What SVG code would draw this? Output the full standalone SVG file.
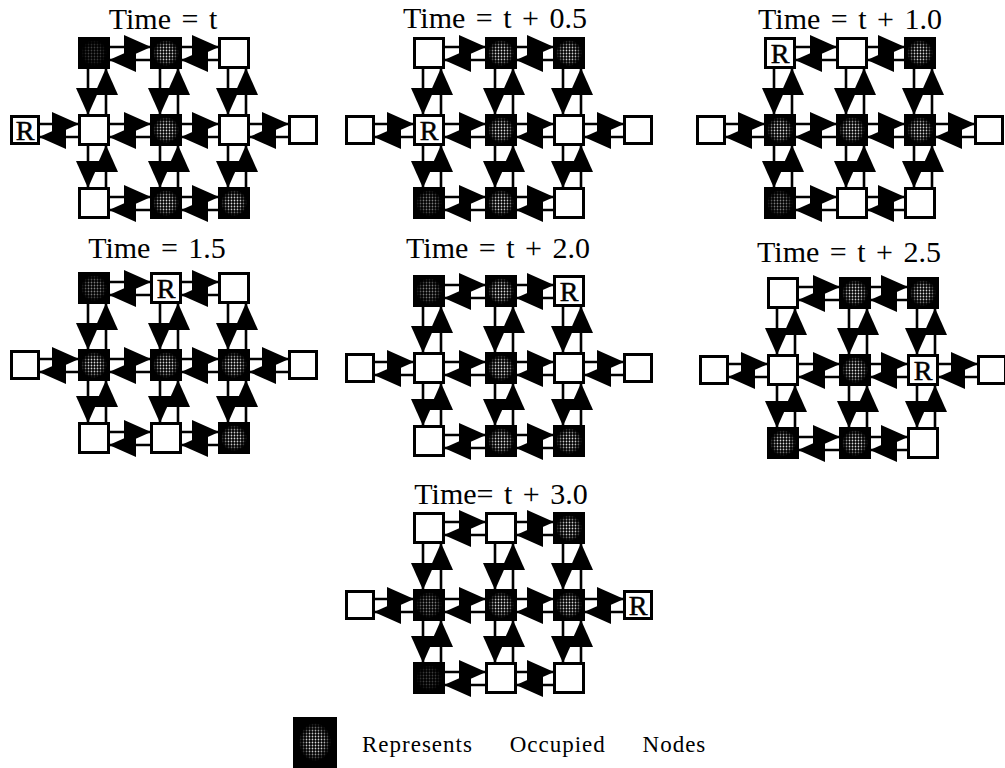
<svg xmlns="http://www.w3.org/2000/svg" xmlns:xlink="http://www.w3.org/1999/xlink" width="1005" height="768" viewBox="0 0 1005 768">
<style>
.w line{stroke:#000;stroke-width:2.6;marker-end:url(#ah)}
.bx{fill:#fff;stroke:#000;stroke-width:3}
.occ .bx,.occf .bx,.occd .bx{fill:#000}
.st{fill:url(#dots)}
.occf .st{opacity:.6}
.occd .st{opacity:.3}
.t{font-family:"Liberation Serif","Times New Roman",serif;font-size:30px;text-anchor:middle;word-spacing:3px;fill:#000}
.r{font-family:"Liberation Serif","Times New Roman",serif;font-size:28px;text-anchor:middle;fill:#000;stroke:#000;stroke-width:.5}
.lg{font-family:"Liberation Serif","Times New Roman",serif;font-size:23px;letter-spacing:1px;word-spacing:30px;fill:#000}
</style>
<defs>
<marker id="ah" viewBox="0 0 27 24" refX="26" refY="12" markerWidth="27" markerHeight="24" markerUnits="userSpaceOnUse" orient="auto">
<path d="M0,0 L27,12 L0,24 Z" fill="#000"/>
</marker>
<pattern id="dots" width="3" height="3" patternUnits="userSpaceOnUse"><circle cx="1.5" cy="1.5" r="0.9" fill="#e6e6e6"/></pattern>
<radialGradient id="fg"><stop offset="0" stop-color="#fff"/><stop offset="0.55" stop-color="#ddd"/><stop offset="1" stop-color="#000"/></radialGradient>
<mask id="fade" maskContentUnits="objectBoundingBox"><rect width="1" height="1" fill="url(#fg)"/></mask>
<g id="wires" class="w">
<line x1="32" y1="10" x2="72" y2="10"/><line x1="72" y1="23" x2="32" y2="23"/>
<line x1="104" y1="10" x2="140" y2="10"/><line x1="140" y1="23" x2="104" y2="23"/>
<line x1="-38" y1="87" x2="0" y2="87"/><line x1="0" y1="100" x2="-38" y2="100"/>
<line x1="32" y1="87" x2="72" y2="87"/><line x1="72" y1="100" x2="32" y2="100"/>
<line x1="104" y1="87" x2="140" y2="87"/><line x1="140" y1="100" x2="104" y2="100"/>
<line x1="172" y1="87" x2="210" y2="87"/><line x1="210" y1="100" x2="172" y2="100"/>
<line x1="32" y1="160" x2="72" y2="160"/><line x1="72" y1="173" x2="32" y2="173"/>
<line x1="104" y1="160" x2="140" y2="160"/><line x1="140" y1="173" x2="104" y2="173"/>
<line x1="10" y1="32" x2="10" y2="77"/><line x1="28" y1="77" x2="28" y2="32"/>
<line x1="82" y1="32" x2="82" y2="77"/><line x1="100" y1="77" x2="100" y2="32"/>
<line x1="150" y1="32" x2="150" y2="77"/><line x1="168" y1="77" x2="168" y2="32"/>
<line x1="10" y1="109" x2="10" y2="150"/><line x1="28" y1="150" x2="28" y2="109"/>
<line x1="82" y1="109" x2="82" y2="150"/><line x1="100" y1="150" x2="100" y2="109"/>
<line x1="150" y1="109" x2="150" y2="150"/><line x1="168" y1="150" x2="168" y2="109"/>
</g>
</defs>
<rect width="1005" height="768" fill="#fff"/>
<g id="titles">
<text class="t" x="163" y="29">Time = t</text>
<text class="t" x="495" y="28">Time = t + 0.5</text>
<text class="t" x="850" y="29">Time = t + 1.0</text>
<text class="t" x="157" y="258">Time = 1.5</text>
<text class="t" x="498" y="258">Time = t + 2.0</text>
<text class="t" x="849" y="262">Time = t + 2.5</text>
<text class="t" x="501" y="504">Time= t + 3.0</text>
</g>
<g id="connectors">
<use href="#wires" x="78" y="37"/>
<use href="#wires" x="413" y="37"/>
<use href="#wires" x="764" y="37"/>
<use href="#wires" x="78" y="272"/>
<use href="#wires" x="413" y="275"/>
<use href="#wires" x="767" y="277"/>
<use href="#wires" x="413" y="512"/>
</g>
<g id="nodes">
<!-- Panel 1 -->
<g id="p1-t1" class="occd" transform="translate(78,37)"><rect class="bx" x="1.5" y="1.5" width="29" height="29"/><rect class="st" x="3" y="3" width="26" height="26" mask="url(#fade)"/></g>
<g id="p1-t2" class="occ" transform="translate(150,37)"><rect class="bx" x="1.5" y="1.5" width="29" height="29"/><rect class="st" x="3" y="3" width="26" height="26" mask="url(#fade)"/></g>
<g id="p1-t3" transform="translate(218,37)"><rect class="bx" x="1.5" y="1.5" width="29" height="29"/></g>
<g id="p1-ml" transform="translate(10,115)"><rect class="bx" x="1.5" y="1.5" width="27" height="27"/><text class="r" x="15" y="25">R</text></g>
<g id="p1-m1" transform="translate(78,114)"><rect class="bx" x="1.5" y="1.5" width="29" height="29"/></g>
<g id="p1-m2" class="occ" transform="translate(150,114)"><rect class="bx" x="1.5" y="1.5" width="29" height="29"/><rect class="st" x="3" y="3" width="26" height="26" mask="url(#fade)"/></g>
<g id="p1-m3" transform="translate(218,114)"><rect class="bx" x="1.5" y="1.5" width="29" height="29"/></g>
<g id="p1-mr" transform="translate(288,115)"><rect class="bx" x="1.5" y="1.5" width="27" height="27"/></g>
<g id="p1-b1" transform="translate(78,187)"><rect class="bx" x="1.5" y="1.5" width="29" height="29"/></g>
<g id="p1-b2" class="occ" transform="translate(150,187)"><rect class="bx" x="1.5" y="1.5" width="29" height="29"/><rect class="st" x="3" y="3" width="26" height="26" mask="url(#fade)"/></g>
<g id="p1-b3" class="occ" transform="translate(218,187)"><rect class="bx" x="1.5" y="1.5" width="29" height="29"/><rect class="st" x="3" y="3" width="26" height="26" mask="url(#fade)"/></g>
<!-- Panel 2 -->
<g id="p2-t1" transform="translate(413,37)"><rect class="bx" x="1.5" y="1.5" width="29" height="29"/></g>
<g id="p2-t2" class="occ" transform="translate(485,37)"><rect class="bx" x="1.5" y="1.5" width="29" height="29"/><rect class="st" x="3" y="3" width="26" height="26" mask="url(#fade)"/></g>
<g id="p2-t3" class="occ" transform="translate(553,37)"><rect class="bx" x="1.5" y="1.5" width="29" height="29"/><rect class="st" x="3" y="3" width="26" height="26" mask="url(#fade)"/></g>
<g id="p2-ml" transform="translate(345,115)"><rect class="bx" x="1.5" y="1.5" width="27" height="27"/></g>
<g id="p2-m1" transform="translate(413,114)"><rect class="bx" x="1.5" y="1.5" width="29" height="29"/><text class="r" x="16" y="26">R</text></g>
<g id="p2-m2" class="occ" transform="translate(485,114)"><rect class="bx" x="1.5" y="1.5" width="29" height="29"/><rect class="st" x="3" y="3" width="26" height="26" mask="url(#fade)"/></g>
<g id="p2-m3" transform="translate(553,114)"><rect class="bx" x="1.5" y="1.5" width="29" height="29"/></g>
<g id="p2-mr" transform="translate(623,115)"><rect class="bx" x="1.5" y="1.5" width="27" height="27"/></g>
<g id="p2-b1" class="occf" transform="translate(413,187)"><rect class="bx" x="1.5" y="1.5" width="29" height="29"/><rect class="st" x="3" y="3" width="26" height="26" mask="url(#fade)"/></g>
<g id="p2-b2" class="occ" transform="translate(485,187)"><rect class="bx" x="1.5" y="1.5" width="29" height="29"/><rect class="st" x="3" y="3" width="26" height="26" mask="url(#fade)"/></g>
<g id="p2-b3" transform="translate(553,187)"><rect class="bx" x="1.5" y="1.5" width="29" height="29"/></g>
<!-- Panel 3 -->
<g id="p3-t1" transform="translate(764,37)"><rect class="bx" x="1.5" y="1.5" width="29" height="29"/><text class="r" x="16" y="26">R</text></g>
<g id="p3-t2" transform="translate(836,37)"><rect class="bx" x="1.5" y="1.5" width="29" height="29"/></g>
<g id="p3-t3" class="occ" transform="translate(904,37)"><rect class="bx" x="1.5" y="1.5" width="29" height="29"/><rect class="st" x="3" y="3" width="26" height="26" mask="url(#fade)"/></g>
<g id="p3-ml" transform="translate(696,115)"><rect class="bx" x="1.5" y="1.5" width="27" height="27"/></g>
<g id="p3-m1" class="occ" transform="translate(764,114)"><rect class="bx" x="1.5" y="1.5" width="29" height="29"/><rect class="st" x="3" y="3" width="26" height="26" mask="url(#fade)"/></g>
<g id="p3-m2" class="occ" transform="translate(836,114)"><rect class="bx" x="1.5" y="1.5" width="29" height="29"/><rect class="st" x="3" y="3" width="26" height="26" mask="url(#fade)"/></g>
<g id="p3-m3" class="occ" transform="translate(904,114)"><rect class="bx" x="1.5" y="1.5" width="29" height="29"/><rect class="st" x="3" y="3" width="26" height="26" mask="url(#fade)"/></g>
<g id="p3-mr" transform="translate(974,115)"><rect class="bx" x="1.5" y="1.5" width="27" height="27"/></g>
<g id="p3-b1" class="occf" transform="translate(764,187)"><rect class="bx" x="1.5" y="1.5" width="29" height="29"/><rect class="st" x="3" y="3" width="26" height="26" mask="url(#fade)"/></g>
<g id="p3-b2" transform="translate(836,187)"><rect class="bx" x="1.5" y="1.5" width="29" height="29"/></g>
<g id="p3-b3" transform="translate(904,187)"><rect class="bx" x="1.5" y="1.5" width="29" height="29"/></g>
<!-- Panel 4 -->
<g id="p4-t1" class="occf" transform="translate(78,272)"><rect class="bx" x="1.5" y="1.5" width="29" height="29"/><rect class="st" x="3" y="3" width="26" height="26" mask="url(#fade)"/></g>
<g id="p4-t2" transform="translate(150,272)"><rect class="bx" x="1.5" y="1.5" width="29" height="29"/><text class="r" x="16" y="26">R</text></g>
<g id="p4-t3" transform="translate(218,272)"><rect class="bx" x="1.5" y="1.5" width="29" height="29"/></g>
<g id="p4-ml" transform="translate(10,350)"><rect class="bx" x="1.5" y="1.5" width="27" height="27"/></g>
<g id="p4-m1" class="occ" transform="translate(78,349)"><rect class="bx" x="1.5" y="1.5" width="29" height="29"/><rect class="st" x="3" y="3" width="26" height="26" mask="url(#fade)"/></g>
<g id="p4-m2" class="occ" transform="translate(150,349)"><rect class="bx" x="1.5" y="1.5" width="29" height="29"/><rect class="st" x="3" y="3" width="26" height="26" mask="url(#fade)"/></g>
<g id="p4-m3" class="occ" transform="translate(218,349)"><rect class="bx" x="1.5" y="1.5" width="29" height="29"/><rect class="st" x="3" y="3" width="26" height="26" mask="url(#fade)"/></g>
<g id="p4-mr" transform="translate(288,350)"><rect class="bx" x="1.5" y="1.5" width="27" height="27"/></g>
<g id="p4-b1" transform="translate(78,422)"><rect class="bx" x="1.5" y="1.5" width="29" height="29"/></g>
<g id="p4-b2" transform="translate(150,422)"><rect class="bx" x="1.5" y="1.5" width="29" height="29"/></g>
<g id="p4-b3" class="occ" transform="translate(218,422)"><rect class="bx" x="1.5" y="1.5" width="29" height="29"/><rect class="st" x="3" y="3" width="26" height="26" mask="url(#fade)"/></g>
<!-- Panel 5 -->
<g id="p5-t1" class="occf" transform="translate(413,275)"><rect class="bx" x="1.5" y="1.5" width="29" height="29"/><rect class="st" x="3" y="3" width="26" height="26" mask="url(#fade)"/></g>
<g id="p5-t2" class="occ" transform="translate(485,275)"><rect class="bx" x="1.5" y="1.5" width="29" height="29"/><rect class="st" x="3" y="3" width="26" height="26" mask="url(#fade)"/></g>
<g id="p5-t3" transform="translate(553,275)"><rect class="bx" x="1.5" y="1.5" width="29" height="29"/><text class="r" x="16" y="26">R</text></g>
<g id="p5-ml" transform="translate(345,353)"><rect class="bx" x="1.5" y="1.5" width="27" height="27"/></g>
<g id="p5-m1" transform="translate(413,352)"><rect class="bx" x="1.5" y="1.5" width="29" height="29"/></g>
<g id="p5-m2" class="occ" transform="translate(485,352)"><rect class="bx" x="1.5" y="1.5" width="29" height="29"/><rect class="st" x="3" y="3" width="26" height="26" mask="url(#fade)"/></g>
<g id="p5-m3" transform="translate(553,352)"><rect class="bx" x="1.5" y="1.5" width="29" height="29"/></g>
<g id="p5-mr" transform="translate(623,353)"><rect class="bx" x="1.5" y="1.5" width="27" height="27"/></g>
<g id="p5-b1" transform="translate(413,425)"><rect class="bx" x="1.5" y="1.5" width="29" height="29"/></g>
<g id="p5-b2" class="occ" transform="translate(485,425)"><rect class="bx" x="1.5" y="1.5" width="29" height="29"/><rect class="st" x="3" y="3" width="26" height="26" mask="url(#fade)"/></g>
<g id="p5-b3" class="occ" transform="translate(553,425)"><rect class="bx" x="1.5" y="1.5" width="29" height="29"/><rect class="st" x="3" y="3" width="26" height="26" mask="url(#fade)"/></g>
<!-- Panel 6 -->
<g id="p6-t1" transform="translate(767,277)"><rect class="bx" x="1.5" y="1.5" width="29" height="29"/></g>
<g id="p6-t2" class="occ" transform="translate(839,277)"><rect class="bx" x="1.5" y="1.5" width="29" height="29"/><rect class="st" x="3" y="3" width="26" height="26" mask="url(#fade)"/></g>
<g id="p6-t3" class="occ" transform="translate(907,277)"><rect class="bx" x="1.5" y="1.5" width="29" height="29"/><rect class="st" x="3" y="3" width="26" height="26" mask="url(#fade)"/></g>
<g id="p6-ml" transform="translate(699,355)"><rect class="bx" x="1.5" y="1.5" width="27" height="27"/></g>
<g id="p6-m1" transform="translate(767,354)"><rect class="bx" x="1.5" y="1.5" width="29" height="29"/></g>
<g id="p6-m2" class="occ" transform="translate(839,354)"><rect class="bx" x="1.5" y="1.5" width="29" height="29"/><rect class="st" x="3" y="3" width="26" height="26" mask="url(#fade)"/></g>
<g id="p6-m3" transform="translate(907,354)"><rect class="bx" x="1.5" y="1.5" width="29" height="29"/><text class="r" x="16" y="26">R</text></g>
<g id="p6-mr" transform="translate(977,355)"><rect class="bx" x="1.5" y="1.5" width="27" height="27"/></g>
<g id="p6-b1" class="occ" transform="translate(767,427)"><rect class="bx" x="1.5" y="1.5" width="29" height="29"/><rect class="st" x="3" y="3" width="26" height="26" mask="url(#fade)"/></g>
<g id="p6-b2" class="occ" transform="translate(839,427)"><rect class="bx" x="1.5" y="1.5" width="29" height="29"/><rect class="st" x="3" y="3" width="26" height="26" mask="url(#fade)"/></g>
<g id="p6-b3" transform="translate(907,427)"><rect class="bx" x="1.5" y="1.5" width="29" height="29"/></g>
<!-- Panel 7 -->
<g id="p7-t1" transform="translate(413,512)"><rect class="bx" x="1.5" y="1.5" width="29" height="29"/></g>
<g id="p7-t2" transform="translate(485,512)"><rect class="bx" x="1.5" y="1.5" width="29" height="29"/></g>
<g id="p7-t3" class="occ" transform="translate(553,512)"><rect class="bx" x="1.5" y="1.5" width="29" height="29"/><rect class="st" x="3" y="3" width="26" height="26" mask="url(#fade)"/></g>
<g id="p7-ml" transform="translate(345,590)"><rect class="bx" x="1.5" y="1.5" width="27" height="27"/></g>
<g id="p7-m1" class="occf" transform="translate(413,589)"><rect class="bx" x="1.5" y="1.5" width="29" height="29"/><rect class="st" x="3" y="3" width="26" height="26" mask="url(#fade)"/></g>
<g id="p7-m2" class="occ" transform="translate(485,589)"><rect class="bx" x="1.5" y="1.5" width="29" height="29"/><rect class="st" x="3" y="3" width="26" height="26" mask="url(#fade)"/></g>
<g id="p7-m3" class="occ" transform="translate(553,589)"><rect class="bx" x="1.5" y="1.5" width="29" height="29"/><rect class="st" x="3" y="3" width="26" height="26" mask="url(#fade)"/></g>
<g id="p7-mr" transform="translate(623,590)"><rect class="bx" x="1.5" y="1.5" width="27" height="27"/><text class="r" x="15" y="25">R</text></g>
<g id="p7-b1" class="occd" transform="translate(413,662)"><rect class="bx" x="1.5" y="1.5" width="29" height="29"/><rect class="st" x="3" y="3" width="26" height="26" mask="url(#fade)"/></g>
<g id="p7-b2" transform="translate(485,662)"><rect class="bx" x="1.5" y="1.5" width="29" height="29"/></g>
<g id="p7-b3" transform="translate(553,662)"><rect class="bx" x="1.5" y="1.5" width="29" height="29"/></g>
</g>
<g id="legend">
<g id="legend-key" class="occ" transform="translate(293,717)"><rect class="bx" x="1.5" y="1.5" width="41" height="48"/><rect class="st" x="6" y="6" width="32" height="38" mask="url(#fade)"/></g>
<text class="lg" x="362" y="752">Represents Occupied Nodes</text>
</g>
</svg>
